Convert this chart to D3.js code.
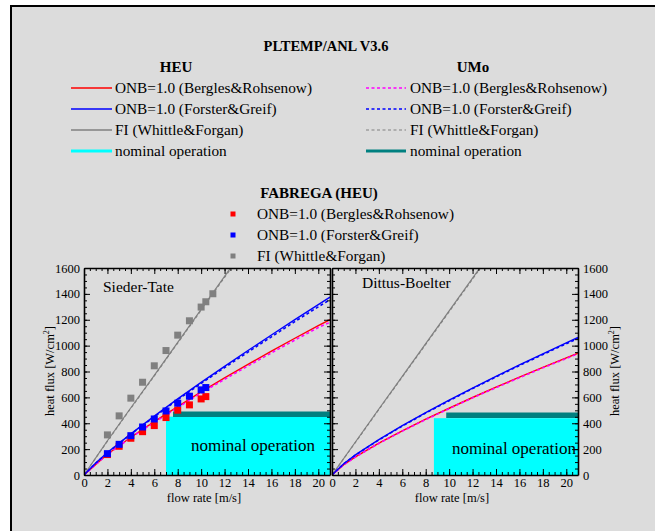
<!DOCTYPE html>
<html>
<head>
<meta charset="utf-8">
<script src="https://cdn.jsdelivr.net/npm/d3@7"></script>
<style>
  html, body { margin: 0; padding: 0; background: #ffffff; }
  svg { display: block; }
  svg text { font-family: "Liberation Serif", "Times New Roman", Times, "DejaVu Serif", serif; }
</style>
</head>
<body>
<svg id="chart" width="655" height="531"></svg>
<script>
// Flow-rate grid for the calculated curves [m/s]
const flowGrid = [0, 1, 2, 4, 6, 8, 10, 12, 14, 16, 18, 20, 21];
const fiGrid = [0, 2, 4, 6, 8, 10, 12, 14];

// Sieder-Tate correlation, heat flux [W/cm2]
const stHeuBR = [0, 82, 160, 292, 412, 528, 642, 750, 855, 957, 1057, 1155, 1200];
const stHeuFG = [0, 92, 174, 318, 455, 588, 716, 840, 962, 1082, 1201, 1317, 1375];
const stUmoBR = [0, 81, 158, 289, 407, 521, 634, 740, 843, 944, 1043, 1140, 1180];
const stUmoFG = [0, 91, 172, 315, 450, 582, 708, 830, 950, 1068, 1186, 1300, 1355];
const stHeuFI = [0, 265, 520, 770, 1025, 1280, 1535, 1790];
const stUmoFI = [0, 262, 516, 766, 1020, 1274, 1528, 1782];

// Dittus-Boelter correlation, heat flux [W/cm2]
const dbHeuBR = [0, 80, 140, 246, 341, 431, 516, 599, 679, 756, 832, 905, 942];
const dbHeuFG = [0, 87, 155, 273, 381, 482, 578, 672, 763, 851, 937, 1021, 1063];
const dbUmoBR = [0, 79, 139, 244, 339, 428, 513, 596, 675, 752, 828, 900, 938];
const dbUmoFG = [0, 86, 154, 271, 378, 479, 574, 668, 758, 846, 931, 1015, 1056];
const dbHeuFI = [0, 255, 510, 762, 1015, 1268, 1522, 1775];
const dbUmoFI = [0, 252, 506, 758, 1010, 1262, 1515, 1768];

// FABREGA (HEU) results, Sieder-Tate panel
const fabFlow = [2, 3, 4, 5, 6, 7, 8, 9, 10, 10.4];
const fabBR = [158, 222, 284, 335, 382, 444, 501, 542, 588, 606];
const fabFG = [165, 237, 304, 371, 433, 495, 555, 609, 658, 676];
const fabFIFlow = [2, 3, 4, 5, 6, 7, 8, 9, 10, 10.4, 11];
const fabFI = [310, 457, 594, 717, 844, 962, 1081, 1192, 1298, 1339, 1401];

// Nominal operation: [Sieder-Tate, Dittus-Boelter]
const nominalHeuFlow = [7.0, 8.7];
const nominalHeuFlux = [451, 439];
const nominalUmoFlow = [7.6, 9.75];
const nominalUmoFlux = [470, 462];

const xTickValues = [0, 2, 4, 6, 8, 10, 12, 14, 16, 18, 20];
const yTickValues = [0, 200, 400, 600, 800, 1000, 1200, 1400, 1600];
const panelNames = ["Sieder-Tate", "Dittus-Boelter"];

const C = {
  red: "#ff0000", blue: "#0000ff", gray: "#808080", magenta: "#ff00ff",
  cyan: "#00ffff", teal: "#008080", bg: "#dcdcdc"
};
const SERIF = "'Liberation Serif', 'Times New Roman', Times, 'DejaVu Serif', serif";

const svg = d3.select("#chart");

// page background and frame
svg.append("rect").attr("x", 11).attr("y", 6).attr("width", 700).attr("height", 600)
  .attr("fill", C.bg).attr("stroke", "#000").attr("stroke-width", 2);

// ---------- legend ----------
const lg = svg.append("g");
lg.append("text").attr("x", 326).attr("y", 51).attr("text-anchor", "middle")
  .attr("font-weight", "bold").attr("font-size", 14.5).text("PLTEMP/ANL V3.6");
lg.append("text").attr("x", 176).attr("y", 72).attr("text-anchor", "middle")
  .attr("font-weight", "bold").attr("font-size", 15).text("HEU");
lg.append("text").attr("x", 473).attr("y", 72).attr("text-anchor", "middle")
  .attr("font-weight", "bold").attr("font-size", 15).text("UMo");

const legendRows = [
  { label: "ONB=1.0 (Bergles&Rohsenow)", heu: C.red, umo: C.magenta },
  { label: "ONB=1.0 (Forster&Greif)", heu: C.blue, umo: C.blue },
  { label: "FI (Whittle&Forgan)", heu: C.gray, umo: C.gray },
  { label: "nominal operation", heu: C.cyan, umo: C.teal, thick: true }
];
legendRows.forEach((r, i) => {
  const yy = 88 + i * 21;
  lg.append("line").attr("x1", 71).attr("x2", 112).attr("y1", yy).attr("y2", yy)
    .attr("stroke", r.heu).attr("stroke-width", r.thick ? 3 : 1.3);
  lg.append("text").attr("x", 115).attr("y", yy + 5).attr("font-size", 15.3).text(r.label);
  lg.append("line").attr("x1", 366).attr("x2", 406).attr("y1", yy).attr("y2", yy)
    .attr("stroke", r.umo).attr("stroke-width", r.thick ? 3 : (i === 2 ? 1.2 : 1.6))
    .attr("stroke-dasharray", r.thick ? null : "3,2.5");
  lg.append("text").attr("x", 410).attr("y", yy + 5).attr("font-size", 15.3).text(r.label);
});

lg.append("text").attr("x", 319).attr("y", 198).attr("text-anchor", "middle")
  .attr("font-weight", "bold").attr("font-size", 15).text("FABREGA (HEU)");
[
  { label: "ONB=1.0 (Bergles&Rohsenow)", color: C.red },
  { label: "ONB=1.0 (Forster&Greif)", color: C.blue },
  { label: "FI (Whittle&Forgan)", color: C.gray }
].forEach((r, i) => {
  const yy = 214 + i * 21;
  lg.append("rect").attr("x", 230.5).attr("y", yy - 2.5).attr("width", 5).attr("height", 5).attr("fill", r.color);
  lg.append("text").attr("x", 257).attr("y", yy + 5).attr("font-size", 15.3).text(r.label);
});

// ---------- panels ----------
const y = d3.scaleLinear().domain([0, 1600]).range([475, 268]);
const panels = [
  { x: d3.scaleLinear().domain([0, 21]).range([84, 330]) },
  { x: d3.scaleLinear().domain([0, 21]).range([332, 578]) }
];

const defs = svg.append("defs");

function drawCurve(g, xs, flows, vals, color, width, dash) {
  const line = d3.line().x((d, i) => xs(flows[i])).y(d => y(d));
  g.append("path").datum(vals).attr("d", line).attr("fill", "none")
    .attr("stroke", color).attr("stroke-width", width)
    .attr("stroke-dasharray", dash || null);
}

panels.forEach((p, k) => {
  const xs = p.x;
  const g = svg.append("g");
  const clipId = "clip" + k;
  defs.append("clipPath").attr("id", clipId).append("rect")
    .attr("x", xs(0)).attr("y", y(1600)).attr("width", xs(21) - xs(0)).attr("height", y(0) - y(1600));
  const inner = g.append("g").attr("clip-path", `url(#${clipId})`);

  // nominal operation region
  inner.append("rect").attr("x", xs(nominalHeuFlow[k])).attr("y", y(nominalHeuFlux[k]))
    .attr("width", xs(21) - xs(nominalHeuFlow[k])).attr("height", y(0) - y(nominalHeuFlux[k]))
    .attr("fill", C.cyan);
  inner.append("line").attr("x1", xs(nominalUmoFlow[k])).attr("x2", xs(21))
    .attr("y1", y(nominalUmoFlux[k])).attr("y2", y(nominalUmoFlux[k]))
    .attr("stroke", C.teal).attr("stroke-width", 5.5);

  inner.append("text").attr("x", k === 0 ? 253 : 514).attr("y", k === 0 ? 451 : 454)
    .attr("text-anchor", "middle").attr("font-size", 17).text("nominal operation");

  const set = k === 0
    ? { hBR: stHeuBR, hFG: stHeuFG, uBR: stUmoBR, uFG: stUmoFG, hFI: stHeuFI, uFI: stUmoFI }
    : { hBR: dbHeuBR, hFG: dbHeuFG, uBR: dbUmoBR, uFG: dbUmoFG, hFI: dbHeuFI, uFI: dbUmoFI };

  drawCurve(inner, xs, fiGrid, set.hFI, C.gray, 1.2);
  drawCurve(inner, xs, fiGrid, set.uFI, C.gray, 1.2, "3,2.5");
  drawCurve(inner, xs, flowGrid, set.hBR, C.red, 1.4);
  drawCurve(inner, xs, flowGrid, set.hFG, C.blue, 1.4);
  drawCurve(inner, xs, flowGrid, set.uBR, C.magenta, 1.6, "3,2.5");
  drawCurve(inner, xs, flowGrid, set.uFG, C.blue, 1.6, "3,2.5");

  if (k === 0) {
    const sq = 7;
    const pts = [
      { f: fabFIFlow, v: fabFI, c: C.gray },
      { f: fabFlow, v: fabBR, c: C.red },
      { f: fabFlow, v: fabFG, c: C.blue }
    ];
    pts.forEach(s => {
      g.selectAll(null).data(s.v).enter().append("rect")
        .attr("x", (d, i) => xs(s.f[i]) - sq / 2).attr("y", d => y(d) - sq / 2)
        .attr("width", sq).attr("height", sq).attr("fill", s.c);
    });
  }

  // panel label
  g.append("text").attr("x", k === 0 ? 103 : 362).attr("y", k === 0 ? 292 : 288)
    .attr("font-size", 15.5).text(panelNames[k]);

  // axes: ticks inward on every side
  const minorX = d3.range(0, 21.01, 0.5);
  const minorY = d3.range(0, 1601, 50);

  const bottom = g.append("g").attr("transform", `translate(0,${y(0)})`)
    .call(d3.axisBottom(xs).tickValues(xTickValues).tickSizeInner(-6).tickSizeOuter(0).tickPadding(3));
  bottom.select(".domain").attr("stroke-width", 1.6);
  bottom.selectAll("text").attr("font-size", 12.5);
  g.append("g").attr("transform", `translate(0,${y(0)})`)
    .call(d3.axisBottom(xs).tickValues(minorX).tickSize(-3).tickFormat(""))
    .select(".domain").remove();

  const top = g.append("g").attr("transform", `translate(0,${y(1600)})`)
    .call(d3.axisTop(xs).tickValues(xTickValues).tickSizeInner(-6).tickSizeOuter(0).tickFormat(""));
  top.select(".domain").attr("stroke-width", 1.6);
  g.append("g").attr("transform", `translate(0,${y(1600)})`)
    .call(d3.axisTop(xs).tickValues(minorX).tickSize(-3).tickFormat(""))
    .select(".domain").remove();

  const leftAx = g.append("g").attr("transform", `translate(${xs(0)},0)`)
    .call(d3.axisLeft(y).tickValues(yTickValues).tickSizeInner(-6).tickSizeOuter(0).tickPadding(4)
      .tickFormat(k === 0 ? d3.format("d") : ""));
  leftAx.select(".domain").attr("stroke-width", 1.6);
  leftAx.selectAll("text").attr("font-size", 12.5);
  g.append("g").attr("transform", `translate(${xs(0)},0)`)
    .call(d3.axisLeft(y).tickValues(minorY).tickSize(-3).tickFormat(""))
    .select(".domain").remove();

  const rightAx = g.append("g").attr("transform", `translate(${xs(21)},0)`)
    .call(d3.axisRight(y).tickValues(yTickValues).tickSizeInner(-6).tickSizeOuter(0).tickPadding(5)
      .tickFormat(k === 1 ? d3.format("d") : ""));
  rightAx.select(".domain").attr("stroke-width", 1.6);
  rightAx.selectAll("text").attr("font-size", 12.5);
  g.append("g").attr("transform", `translate(${xs(21)},0)`)
    .call(d3.axisRight(y).tickValues(minorY).tickSize(-3).tickFormat(""))
    .select(".domain").remove();

  g.selectAll(".tick line").attr("stroke", "#000").attr("stroke-width", 1);
  g.selectAll(".domain").attr("stroke", "#000");

  // x-axis title
  g.append("text").attr("x", (xs(0) + xs(21)) / 2 - 3).attr("y", 502).attr("text-anchor", "middle")
    .attr("font-size", 12.5).text("flow rate [m/s]");
});

// y-axis titles
function yTitle(xPos) {
  const t = svg.append("text").attr("transform", `translate(${xPos},371) rotate(-90)`)
    .attr("text-anchor", "middle").attr("font-size", 12.5);
  t.append("tspan").text("heat flux [W/cm");
  t.append("tspan").attr("dy", -5).attr("font-size", 8).text("2");
  t.append("tspan").attr("dy", 5).text("]");
}
yTitle(54);
yTitle(619);

// one serif face for every label, including the axis groups
svg.selectAll("g").filter(function () { return this.hasAttribute("font-family"); }).attr("font-family", SERIF);
svg.selectAll("text").attr("font-family", SERIF);
</script>
</body>
</html>
